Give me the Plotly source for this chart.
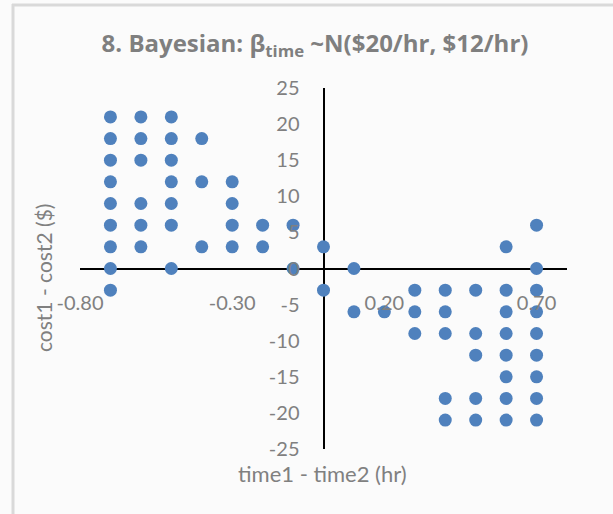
import plotly.graph_objects as go

# Data
time_diff = [
    -0.7, -0.7, -0.7, -0.7, -0.7, -0.7, -0.7, -0.7, -0.7,
    -0.6, -0.6, -0.6, -0.6, -0.6, -0.6,
    -0.5, -0.5, -0.5, -0.5, -0.5, -0.5, -0.5,
    -0.4, -0.4, -0.4,
    -0.3, -0.3, -0.3, -0.3,
    -0.2, -0.2,
    -0.1, -0.1,
    0.0, 0.0,
    0.1, 0.1,
    0.2,
    0.3, 0.3, 0.3,
    0.4, 0.4, 0.4, 0.4, 0.4,
    0.5, 0.5, 0.5, 0.5, 0.5,
    0.6, 0.6, 0.6, 0.6, 0.6, 0.6, 0.6, 0.6,
    0.7, 0.7, 0.7, 0.7, 0.7, 0.7, 0.7, 0.7, 0.7,
]
cost_diff = [
    21, 18, 15, 12, 9, 6, 3, 0, -3,
    21, 18, 15, 9, 6, 3,
    21, 18, 15, 12, 9, 6, 0,
    18, 12, 3,
    12, 9, 6, 3,
    6, 3,
    6, 0,
    3, -3,
    0, -6,
    -6,
    -3, -6, -9,
    -3, -6, -9, -18, -21,
    -3, -9, -12, -18, -21,
    3, -3, -6, -9, -12, -15, -18, -21,
    6, 0, -3, -6, -9, -12, -15, -18, -21,
]

x_tickvals = [-0.8, -0.3, 0.2, 0.7]
x_ticktext = ["-0.80", "-0.30", "0.20", "0.70"]
y_tickvals = [-25, -20, -15, -10, -5, 0, 5, 10, 15, 20, 25]
y_ticktext = ["-25", "-20", "-15", "-10", "-5", "0", "5", "10", "15", "20", "25"]

title_text = "<b>8. Bayesian: β<sub>time</sub> ~N($20/hr, $12/hr)</b>"
x_title = "time1 - time2 (hr)"
y_title = "cost1 - cost2 ($)"

W, H = 613, 514
ML, MR, MT, MB = 80, 46, 88, 65
PW, PH = W - ML - MR, H - MT - MB


def px_x(p):
    return (p - ML) / PW


def px_y(p):
    return (H - MB - p) / PH


FONT = "Lato"
GRAY = "#808080"

fig = go.Figure(
    go.Scatter(
        x=time_diff,
        y=cost_diff,
        mode="markers",
        marker=dict(size=13, color="#4f81bd"),
        hoverinfo="x+y",
    )
)

fig.update_layout(
    width=W,
    height=H,
    margin=dict(l=ML, r=MR, t=MT, b=MB),
    paper_bgcolor="#fbfbfb",
    plot_bgcolor="rgba(0,0,0,0)",
    showlegend=False,
    font=dict(family=FONT, color=GRAY),
    title=dict(
        text=title_text,
        x=px_x(315),
        xref="paper",
        xanchor="center",
        y=1 - 44 / H,
        yref="container",
        yanchor="middle",
        font=dict(family="Open Sans", size=24, color="#7f7f7f"),
    ),
    xaxis=dict(
        range=[-0.8, 0.8],
        tickvals=x_tickvals,
        ticktext=x_ticktext,
        showgrid=False,
        zeroline=True,
        zerolinecolor="black",
        zerolinewidth=2,
        showline=False,
        anchor="free",
        position=0.5,
        ticks="outside",
        ticklen=16,
        tickcolor="rgba(0,0,0,0)",
        tickfont=dict(family=FONT, size=20, color=GRAY),
        fixedrange=True,
        automargin=False,
    ),
    yaxis=dict(
        range=[-25, 25],
        tickvals=y_tickvals,
        ticktext=y_ticktext,
        showgrid=False,
        zeroline=True,
        zerolinecolor="black",
        zerolinewidth=2,
        showline=False,
        anchor="free",
        position=0.5,
        ticks="outside",
        ticklen=20,
        tickcolor="rgba(0,0,0,0)",
        tickfont=dict(family=FONT, size=20, color=GRAY),
        fixedrange=True,
        automargin=False,
    ),
    annotations=[
        dict(
            text=x_title,
            xref="paper",
            yref="paper",
            x=px_x(322),
            y=px_y(473),
            xanchor="center",
            yanchor="middle",
            showarrow=False,
            font=dict(family=FONT, size=22, color=GRAY),
        ),
        dict(
            text=y_title,
            xref="paper",
            yref="paper",
            x=px_x(43),
            y=px_y(278),
            xanchor="center",
            yanchor="middle",
            textangle=-90,
            showarrow=False,
            font=dict(family=FONT, size=21, color=GRAY),
        ),
    ],
    shapes=[
        dict(
            type="line",
            xref="paper",
            yref="paper",
            x0=px_x(12),
            x1=px_x(W),
            y0=px_y(5),
            y1=px_y(5),
            line=dict(color="#d9d9d9", width=3),
        ),
        dict(
            type="line",
            xref="paper",
            yref="paper",
            x0=px_x(13),
            x1=px_x(13),
            y0=px_y(4),
            y1=px_y(H),
            line=dict(color="#d9d9d9", width=3),
        ),
    ],
)

fig.write_html(
    "out.html",
    config={"displayModeBar": False},
    post_script="document.body.style.margin='0';document.body.style.padding='0';",
)
